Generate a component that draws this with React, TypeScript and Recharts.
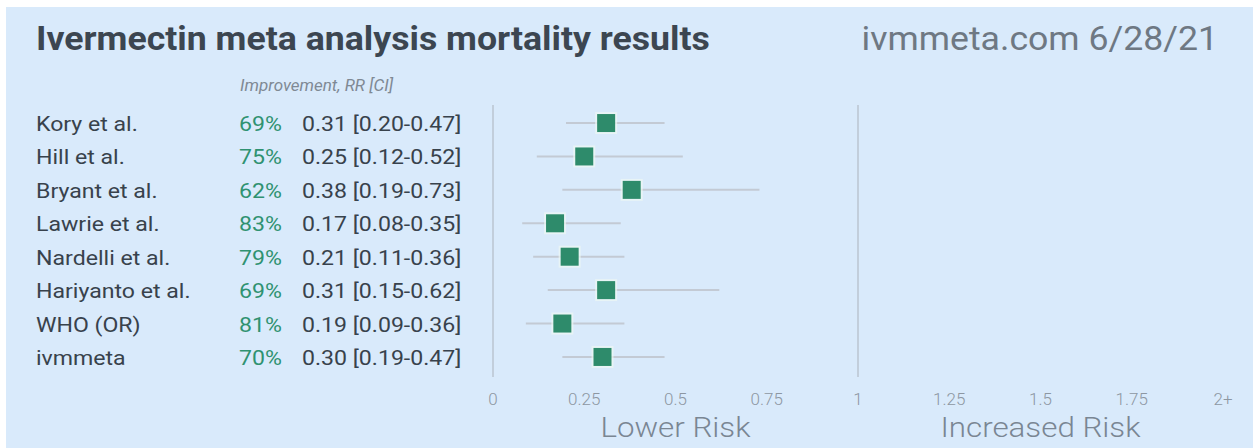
import React from 'react';
import { ScatterChart, Scatter, XAxis, YAxis, ErrorBar, ReferenceLine } from 'recharts';

const studies = ['Kory et al.', 'Hill et al.', 'Bryant et al.', 'Lawrie et al.', 'Nardelli et al.', 'Hariyanto et al.', 'WHO (OR)', 'ivmmeta'];
const improvement = [69, 75, 62, 83, 79, 69, 81, 70];
const rr = [0.31, 0.25, 0.38, 0.17, 0.21, 0.31, 0.19, 0.3];
const ciLow = [0.2, 0.12, 0.19, 0.08, 0.11, 0.15, 0.09, 0.19];
const ciHigh = [0.47, 0.52, 0.73, 0.35, 0.36, 0.62, 0.36, 0.47];

const xTicks = [0, 0.25, 0.5, 0.75, 1, 1.25, 1.5, 1.75, 2];
const xTickLabels = ['0', '0.25', '0.5', '0.75', '1', '1.25', '1.5', '1.75', '2+'];
// zone captions sit under the 0.5 and 1.5 ticks
const zoneLabels: Record<string, string> = { '0.5': 'Lower Risk', '1.5': 'Increased Risk' };

const W = 1247;
const H = 441;
const FONT = 'Roboto, "Noto Sans", sans-serif';
// the source picture is a bit wider than tall, so the text is stretched a little
const SX = 1.1;

const data = studies.map((name, i) => ({
  name,
  idx: i,
  rr: rr[i],
  err: [rr[i] - ciLow[i], ciHigh[i] - rr[i]],
}));

const StudyTick = (props: any) => {
  const { y, payload } = props;
  const i = payload.value;
  if (studies[i] === undefined) return null;
  const by = y + 8;
  return (
    <g fontFamily={FONT} fontSize={21}>
      <text transform={`translate(30,${by}) scale(${SX},1)`} fill="#38424c">{studies[i]}</text>
      <text transform={`translate(276,${by}) scale(${SX},1)`} fill="#2f9271" textAnchor="end">{improvement[i]}%</text>
      <text transform={`translate(296,${by}) scale(${SX},1)`} fill="#38424c">
        {`${rr[i].toFixed(2)} [${ciLow[i].toFixed(2)}-${ciHigh[i].toFixed(2)}]`}
      </text>
    </g>
  );
};

const ValueTick = (props: any) => {
  const { x, y, payload, index } = props;
  const zone = zoneLabels[String(payload.value)];
  return (
    <g fontFamily={FONT} fontWeight={300}>
      <text x={x} y={y + 28} textAnchor="middle" fontSize={17} fill="#8d97a2">
        {xTickLabels[index] ?? payload.value}
      </text>
      {zone && (
        <text transform={`translate(${x},${y + 60}) scale(1.16,1)`} textAnchor="middle" fontSize={27} fill="#7a8693">
          {zone}
        </text>
      )}
    </g>
  );
};

const SquareMark = (props: any) => {
  const { cx, cy } = props;
  return (
    <g>
      <rect x={cx - 11} y={cy - 11} width={22} height={22} fill="#eef8f4" opacity={0.7} />
      <rect x={cx - 9} y={cy - 9} width={18} height={18} fill="#2e8b6b" />
    </g>
  );
};

const App: React.FC = () => {
  return (
    <div style={{ position: 'absolute', left: 6, top: 7, width: W, height: H, background: '#d9eafb', overflow: 'hidden' }}>
      <div style={{ position: 'absolute', left: 30, top: 15, fontFamily: FONT, fontWeight: 700, fontSize: 33, lineHeight: '33px', color: '#3c4651', whiteSpace: 'nowrap', transform: 'scaleX(1.08)', transformOrigin: 'left' }}>
        Ivermectin meta analysis mortality results
      </div>
      <div style={{ position: 'absolute', right: 35, top: 15, fontFamily: FONT, fontWeight: 400, fontSize: 33, lineHeight: '33px', color: '#6e7883', whiteSpace: 'nowrap', transform: 'scaleX(1.08)', transformOrigin: 'right' }}>
        ivmmeta.com 6/28/21
      </div>
      <div style={{ position: 'absolute', left: 234, top: 70, fontFamily: FONT, fontStyle: 'italic', fontSize: 17, lineHeight: '17px', color: '#7f8994', whiteSpace: 'nowrap' }}>
        Improvement, RR [CI]
      </div>
      <ScatterChart width={W} height={H} margin={{ top: 98, right: 30, bottom: 5, left: 0 }} style={{ position: 'absolute', left: 0, top: 0 }}>
        <XAxis
          type="number"
          dataKey="rr"
          domain={[0, 2]}
          ticks={xTicks}
          interval={0}
          axisLine={false}
          tickLine={false}
          tickSize={0}
          tickMargin={0}
          height={66}
          tick={<ValueTick />}
        />
        <YAxis
          type="number"
          dataKey="idx"
          domain={[-0.54, 7.6]}
          reversed
          ticks={[0, 1, 2, 3, 4, 5, 6, 7]}
          interval={0}
          width={487}
          axisLine={false}
          tickLine={false}
          tickSize={0}
          tickMargin={0}
          tick={<StudyTick />}
        />
        <ReferenceLine x={0} stroke="#c2cedb" strokeWidth={2} />
        <ReferenceLine x={1} stroke="#c2cedb" strokeWidth={2} />
        <Scatter data={data} shape={<SquareMark />} isAnimationActive={false}>
          <ErrorBar dataKey="err" direction="x" width={0} stroke="#c3cad4" strokeWidth={2} />
        </Scatter>
      </ScatterChart>
    </div>
  );
};

export default App;
